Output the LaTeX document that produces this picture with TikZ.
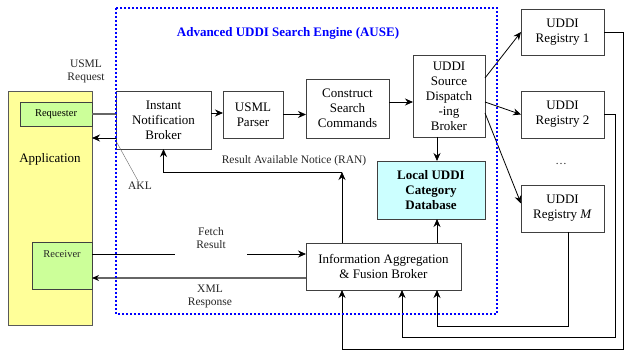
\documentclass[tikz,border=0pt]{standalone}
\usepackage{fontspec}
\setmainfont{Liberation Serif}
\usetikzlibrary{arrows.meta,positioning}
\definecolor{appyellow}{HTML}{FFFF99}
\definecolor{partgreen}{HTML}{CCFF99}
\definecolor{dbcyan}{HTML}{CCFFFF}
\tikzset{
    block/.style={
        rectangle, draw=black!75, fill=white,
        align=center, inner sep=1pt, outer sep=0pt,
        font=\fontsize{13}{15}\selectfont,
    },
    line/.style={
        draw, -{Stealth[length=8pt,width=7pt]},
    },
    wire/.style={
        draw=black!60, line width=1.3pt,
    },
    note/.style={
        align=center, inner sep=1pt, text=black!85,
        font=\fontsize{11.5}{13}\selectfont,
    },
    engine/.style={
        draw=blue, line width=2pt, dotted,
    },
}
\begin{document}
\begin{tikzpicture}[x=1pt,y=-1pt,line width=0.8pt]
                \useasboundingbox (0,0) rectangle (624,352);
                % client application
                \node [block, fill=appyellow, draw=black!65, minimum width=84pt, minimum height=234pt] (app) at (50,208) {};
                \node [block] at (50,159) [draw=none, fill=none] {Application};
                \node [block, fill=partgreen, minimum width=72pt, minimum height=24pt, font=\fontsize{10.5}{12}\selectfont] (req) at (56,114) {Requester};
                \node [block, fill=partgreen, minimum width=60pt, minimum height=47pt] (recv) at (62,265.5) {};
                \node [note, font=\fontsize{10.5}{12}\selectfont] at (62,254) {Receiver};
                % engine components
                \node [block, minimum width=95pt, minimum height=58pt] (inb) at (163.5,120) {Instant\\Notification\\Broker};
                \node [block, minimum width=60pt, minimum height=47pt] (parser) at (253,114.5) {USML\\Parser};
                \node [block, minimum width=83pt, minimum height=59pt] (csc) at (347.5,108.5) {Construct\\Search\\Commands};
                \node [block, minimum width=72pt, minimum height=82pt] (usdb) at (449,96) {UDDI\\Source\\Dispatch\\-ing\\Broker};
                \node [block, fill=dbcyan, minimum width=108pt, minimum height=58pt, font=\fontsize{13}{15}\selectfont\bfseries] (localdb) at (431,190) {Local UDDI\\Category\\Database};
                \node [block, minimum width=155pt, minimum height=47pt] (iafb) at (383.5,266.5) {Information Aggregation\\\& Fusion Broker};
                % registries
                \node [block, minimum width=83pt, minimum height=46pt] (reg1) at (562.5,32) {UDDI\\Registry 1};
                \node [block, minimum width=83pt, minimum height=47pt] (reg2) at (562.5,114.5) {UDDI\\Registry 2};
                \node [block, minimum width=83pt, minimum height=47pt] (regM) at (562.5,208.5) {UDDI\\Registry \textit{M}};
                \node [note] (dots) at (561,164) {\ldots};
                % request path
                \node [note] (usml) at (86,71) {USML\\Request};
                \draw[wire] (req.east) -- (inb.west |- req.east);
                \draw[line] (inb.east |- 0,113) -- (parser.west |- 0,113);
                \draw[line] (parser.east) -- (csc.west |- parser.east);
                \draw[line] (csc.east |- 0,102) -- (usdb.west |- 0,102);
                \coordinate (dbx) at (437,0);
                \draw[line] (dbx |- usdb.south) -- (dbx |- localdb.north);
                \draw[line] ([yshift=18pt]usdb.east) -- (reg1.west);
                \draw[line] ([yshift=-6pt]usdb.east) -- (reg2.west);
                \draw[line] ([yshift=-17pt]usdb.east) -- ([yshift=5pt]regM.west);
                % notification back to the requester
                \draw[line] (inb.west |- 0,138) -- (app.east |- 0,138);
                \node [note] (akl) at (140,186) {AKL};
                \draw[black!60, line width=0.4pt] (inb.west |- 0,141) -- ([xshift=-2pt]akl.north);
                \coordinate (ran) at (342,172);
                \node [note] (rantext) at (294,161) {Result Available Notice (RAN)};
                \draw[line] (ran |- iafb.north) -- (ran);
                \draw[line] (ran) -| (inb.south);
                % registry results back to the fusion broker
                \draw[line] (reg1.east) -| (623,349) -| (ran |- iafb.south);
                \draw[line] (reg2.east) -| (615,337) -| (402,0 |- iafb.south);
                \draw[line] ([xshift=5.5pt]regM.south) |- (dbx |- 0,326) -- (dbx |- iafb.south);
                \draw[line] (dbx |- iafb.north) -- (dbx |- localdb.south);
                % fetch and response
                \node [note, minimum width=72pt] (fetch) at (211,238) {Fetch\\Result};
                \draw (recv.east |- 0,254) -- (fetch.west |- 0,254);
                \draw[line] (fetch.east |- 0,254) -- (iafb.west |- 0,254);
                \draw[wire, -{Stealth[length=7pt,width=6pt,black]}] (iafb.west |- 0,278) -- (recv.east |- 0,278);
                \node [note] (xmlresp) at (210,296) {XML\\Response};
                % engine boundary
                \draw[engine] (116,8) rectangle (497,314);
                \node [font=\fontsize{13}{15}\selectfont\bfseries, text=blue] (title) at (288,33) {Advanced UDDI Search Engine (AUSE)};
\end{tikzpicture}
\end{document}
